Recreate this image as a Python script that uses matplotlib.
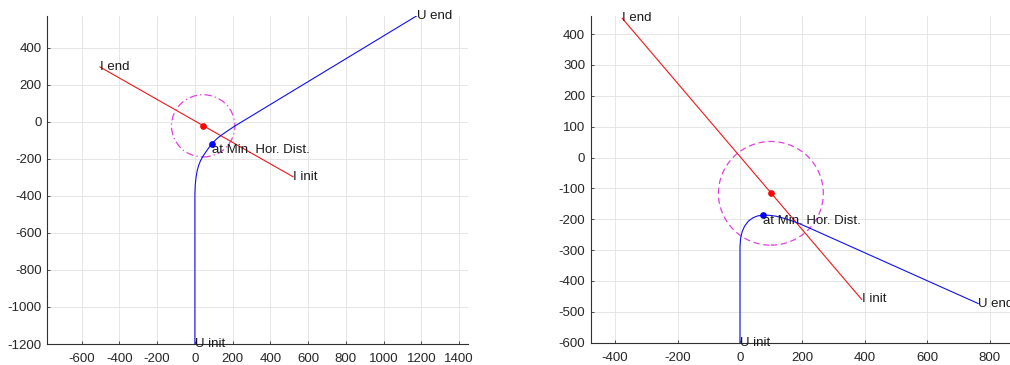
import matplotlib
matplotlib.use("Agg")
import matplotlib.pyplot as plt
from matplotlib.patches import Circle

plt.rcParams["font.family"] = ["Liberation Sans", "DejaVu Sans"]
plt.rcParams["axes.unicode_minus"] = False

# left panel
left_i_x = [520, -503]
left_i_y = [-297, 296]
left_u_x = [0, 0, 2, 6, 12, 20, 30, 43, 60, 88, 120, 160, 210, 1175]
left_u_y = [-1200, -390, -340, -300, -265, -235, -210, -186, -160, -120, -88, -58, -24, 572]
left_i_min = (44, -22)
left_u_min = (88, -120)
left_radius = 168
left_xticks = list(range(-600, 1401, 200))
left_yticks = list(range(-1200, 401, 200))

# right panel
right_i_x = [390, -377]
right_i_y = [-460, 451]
right_u_x = [0, 0, 2, 7, 15, 27, 42, 57, 73, 92, 115, 145, 180, 215, 763]
right_u_y = [-600, -290, -262, -240, -222, -206, -195, -189, -187, -187, -190, -198, -210, -225, -473]
right_i_min = (99, -116)
right_u_min = (73, -187)
right_radius = 168
right_xticks = list(range(-400, 801, 200))
right_yticks = list(range(-600, 401, 100))

FS = 9.5
TXT = "#1a1a1a"
AX = "#303030"


def draw_panel(ax, i_x, i_y, u_x, u_y, i_min, u_min, radius, circ_style,
               xlim, ylim, xticks, yticks):
    ax.plot(i_x, i_y, color="#f01818", lw=0.8)
    ax.plot(u_x, u_y, color="#1010f0", lw=0.8)
    ax.plot(*i_min, "o", color="#ff0000", ms=3.8)
    ax.plot(*u_min, "o", color="#0000ff", ms=3.8)
    ax.add_patch(Circle(i_min, radius, fill=False, edgecolor="#e040e0",
                        lw=0.9, linestyle=circ_style))

    ax.text(i_x[0], i_y[0], "I init", ha="left", va="center", fontsize=FS, color=TXT)
    ax.text(i_x[-1], i_y[-1], "I end", ha="left", va="center", fontsize=FS, color=TXT)
    ax.text(u_x[0], u_y[0], "U init", ha="left", va="center", fontsize=FS, color=TXT)
    ax.text(u_x[-1], u_y[-1], "U end", ha="left", va="center", fontsize=FS, color=TXT)
    ax.text(u_min[0], u_min[1], "at Min. Hor. Dist.", ha="left", va="top",
            fontsize=FS, color=TXT)

    ax.set_xlim(*xlim)
    ax.set_ylim(*ylim)
    ax.set_xticks(xticks)
    ax.set_yticks(yticks)
    ax.grid(True, color="#e2e2e2", lw=0.6)
    ax.set_axisbelow(True)
    for side in ("top", "right"):
        ax.spines[side].set_visible(False)
    for side in ("left", "bottom"):
        ax.spines[side].set_color(AX)
        ax.spines[side].set_linewidth(0.8)
    ax.tick_params(direction="in", length=2.5, width=0.6, color=AX,
                   labelsize=FS, labelcolor="#262626")
    ax.tick_params(axis="x", pad=6.5)
    ax.tick_params(axis="y", pad=4)


fig = plt.figure(figsize=(10.10, 3.65), dpi=100)
ax1 = fig.add_axes([0.0468, 0.0575, 0.4168, 0.8986])
ax2 = fig.add_axes([0.5849, 0.0611, 0.4151, 0.8937])

draw_panel(ax1, left_i_x, left_i_y, left_u_x, left_u_y, left_i_min, left_u_min,
           left_radius, (0, (6, 2.5, 1, 2.5)), (-782, 1448), (-1200, 571),
           left_xticks, left_yticks)
draw_panel(ax2, right_i_x, right_i_y, right_u_x, right_u_y, right_i_min, right_u_min,
           right_radius, (0, (5, 3)), (-478, 865), (-600, 457),
           right_xticks, right_yticks)

fig.savefig("out.png", dpi=100)
